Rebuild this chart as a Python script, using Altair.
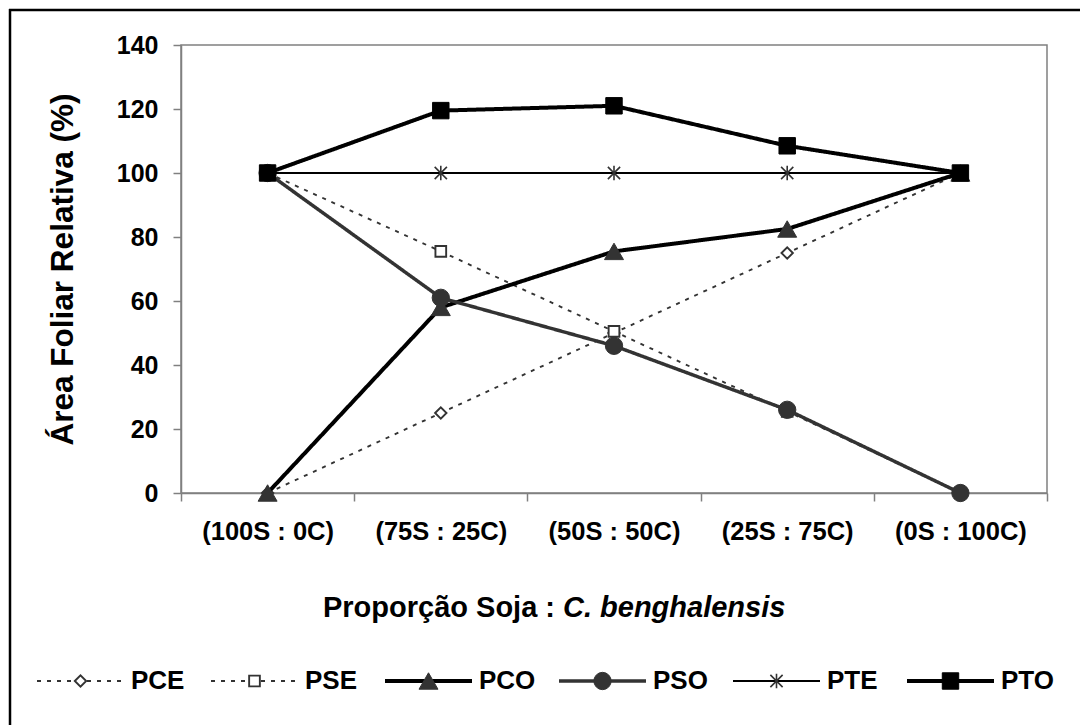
import altair as alt
import pandas as pd

# Mixture proportions (soybean : C. benghalensis)
categories = ["(100S : 0C)", "(75S : 25C)", "(50S : 50C)", "(25S : 75C)", "(0S : 100C)"]
series_names = ["PCE", "PSE", "PCO", "PSO", "PTE", "PTO"]

# Relative leaf area (%) per series
pce = [0, 25, 50, 75, 100]
pse = [100, 75.5, 50.5, 25.5, 0]
pco = [0, 58, 75.5, 82.5, 100]
pso = [100, 61, 46, 26, 0]
pte = [100, 100, 100, 100, 100]
pto = [100, 119.5, 121, 108.5, 100]

values = {"PCE": pce, "PSE": pse, "PCO": pco, "PSO": pso, "PTE": pte, "PTO": pto}

FONT = "Liberation Sans"
STAR = "M-1,-1L1,1M-1,1L1,-1M0,-1.2L0,1.2"

styles = {
    "PCE": dict(color="#333333", width=1.9, dash=[4, 6], shape="diamond", size=130, filled=False, mstroke=1.9),
    "PSE": dict(color="#333333", width=1.9, dash=[4, 6], shape="square", size=115, filled=False, mstroke=1.9),
    "PCO": dict(color="#000000", width=4, dash=[1, 0], shape="triangle-up", size=360, filled=True, mcolor="#333333"),
    "PSO": dict(color="#333333", width=3.5, dash=[1, 0], shape="circle", size=300, filled=True),
    "PTE": dict(color="#000000", width=2, dash=[1, 0], shape=STAR, size=150, filled=False, mstroke=1.6, mcolor="#333333"),
    "PTO": dict(color="#000000", width=4, dash=[1, 0], shape="square", size=270, filled=True),
}

rows = []
for s in series_names:
    for c, v in zip(categories, values[s]):
        rows.append({"categoria": c, "serie": s, "valor": v})
df = pd.DataFrame(rows)

x_enc = alt.X(
    "categoria:N",
    sort=categories,
    scale=alt.Scale(type="band", paddingInner=0, paddingOuter=0),
    axis=alt.Axis(
        title=None, tickBand="extent", labelAngle=0, labelFont=FONT, labelFontSize=25.5,
        labelFontWeight="bold", labelColor="#000000", labelPadding=18, tickSize=8,
        tickColor="#808080", domainColor="#808080", domainWidth=1.5, tickWidth=1.5,
        grid=False, orient="bottom",
    ),
)
y_enc = alt.Y(
    "valor:Q",
    scale=alt.Scale(domain=[0, 140], nice=False, zero=True),
    axis=alt.Axis(
        title="Área Foliar Relativa (%)", values=list(range(0, 141, 20)), titleFont=FONT,
        titleFontSize=31.5, titleFontWeight="bold", titleColor="#000000", titlePadding=37,
        labelFont=FONT, labelFontSize=25, labelFontWeight="bold", labelColor="#000000",
        labelPadding=15, tickSize=8, tickColor="#808080", domainColor="#808080",
        domainWidth=1.5, tickWidth=1.5, grid=False,
    ),
)


def marker(chart_data, st):
    mcol = st.get("mcolor", st["color"])
    if st["filled"]:
        return alt.Chart(chart_data).mark_point(
            shape=st["shape"], size=st["size"], filled=True, fill=mcol, stroke=mcol,
            strokeWidth=1, opacity=1)
    kw = dict(shape=st["shape"], size=st["size"], filled=False, stroke=mcol,
              strokeWidth=st.get("mstroke", 1.5), opacity=1)
    if st["shape"] != STAR:
        kw["fill"] = "#ffffff"
        kw["fillOpacity"] = 1
    return alt.Chart(chart_data).mark_point(**kw)


# Data series: line first, then its markers
main_layers = []
for s in series_names:
    st = styles[s]
    sub = df[df["serie"] == s]
    line = alt.Chart(sub).mark_line(
        color=st["color"], strokeWidth=st["width"], strokeDash=st["dash"]
    ).encode(x=x_enc, y=y_enc)
    pt = marker(sub, st).encode(x=x_enc, y=y_enc)
    main_layers += [line, pt]
main = alt.layer(*main_layers)

# Legend drawn below the plot: one slot per series on its own scale
leg_rows = []
for i, s in enumerate(series_names):
    leg_rows.append({"serie": s, "lx": i})
    leg_rows.append({"serie": s, "lx": i + 0.5})
leg_df = pd.DataFrame(leg_rows)
leg_pts = pd.DataFrame({"serie": series_names, "lx": [i + 0.25 for i in range(6)]})
leg_txt = pd.DataFrame({"serie": series_names, "lx": [i + 0.5 for i in range(6)]})

leg_scale = alt.Scale(domain=[0, 6], range=[-144, 900])
LEG_Y = 636
leg_layers = []
for s in series_names:
    st = styles[s]
    lx = alt.X("lx:Q", scale=leg_scale, axis=None)
    leg_layers.append(
        alt.Chart(leg_df[leg_df["serie"] == s]).mark_line(
            color=st["color"], strokeWidth=st["width"], strokeDash=st["dash"]
        ).encode(x=lx, y=alt.value(LEG_Y))
    )
    leg_layers.append(marker(leg_pts[leg_pts["serie"] == s], st).encode(x=lx, y=alt.value(LEG_Y)))
    leg_layers.append(
        alt.Chart(leg_txt[leg_txt["serie"] == s]).mark_text(
            align="left", baseline="middle", dx=7, font=FONT, fontSize=26,
            fontWeight="bold", color="#000000"
        ).encode(x=lx, y=alt.value(LEG_Y), text="serie:N")
    )
legend = alt.layer(*leg_layers)

# X-axis title with the species name in italics
title_a = alt.Chart(pd.DataFrame({"t": ["Proporção Soja :"]})).mark_text(
    align="right", baseline="alphabetic", font=FONT, fontSize=29, fontWeight="bold", color="#000000"
).encode(x=alt.value(374), y=alt.value(572), text="t:N")
title_b = alt.Chart(pd.DataFrame({"t": ["C. benghalensis"]})).mark_text(
    align="left", baseline="alphabetic", font=FONT, fontSize=29, fontWeight="bold",
    fontStyle="italic", color="#000000"
).encode(x=alt.value(382), y=alt.value(572), text="t:N")

# Frame lines along the left and top of the figure
frame_left = alt.Chart(pd.DataFrame({"k": [0]})).mark_rule(color="#000000", strokeWidth=2.5).encode(
    x=alt.value(-171), y=alt.value(-36), y2=alt.value(700)
)
frame_top = alt.Chart(pd.DataFrame({"k": [0]})).mark_rule(color="#000000", strokeWidth=2.5).encode(
    x=alt.value(-172), x2=alt.value(920), y=alt.value(-35)
)

chart = alt.layer(main, legend, title_a, title_b, frame_left, frame_top).resolve_scale(
    x="independent"
).properties(
    width=866, height=448,
    autosize=alt.AutoSizeParams(type="none"),
    padding={"left": 181, "top": 45, "right": 33, "bottom": 232},
    background="#ffffff",
).configure_view(stroke="#808080", strokeWidth=1.5)

chart.save("out.html", embed_options={"renderer": "svg", "actions": False})
